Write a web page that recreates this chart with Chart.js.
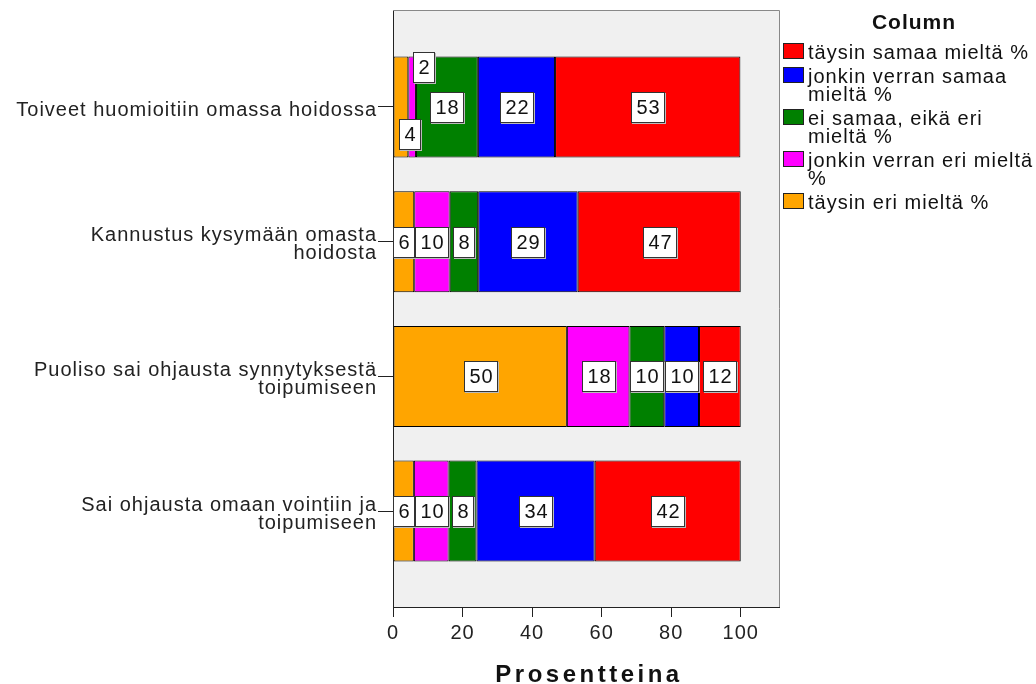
<!DOCTYPE html>
<html>
<head>
<meta charset="utf-8">
<script src="https://cdn.jsdelivr.net/npm/chart.js@4.4.1/dist/chart.umd.min.js"></script>
<style>
    html, body { margin: 0; padding: 0; background: #fff; overflow: hidden; }
    #wrap { position: relative; width: 1036px; height: 684px; }
    #legend {
        position: absolute; left: 781px; top: 10px; width: 266px;
        font-family: "Liberation Sans", Arial, sans-serif; color: #111;
        font-size: 20px; letter-spacing: 1px;
    }
    #legend .otsikko { font-weight: bold; font-size: 21px; line-height: 24px; text-align: center; margin-bottom: 9px; }
    #legend .rivi { position: relative; padding-left: 27px; line-height: 18px; margin-bottom: 6px; white-space: nowrap; }
    #legend .laatikko { position: absolute; left: 2px; top: 0px; width: 19px; height: 14px; border: 1px solid #222; }
</style>
</head>
<body>
<div id="wrap">
    <canvas id="myChart" width="1036" height="684"></canvas>
    <div id="legend"></div>
</div>
<script>
    // kategoriat (y-akseli)
    var categories = [
        ['Toiveet huomioitiin omassa hoidossa'],
        ['Kannustus kysymään omasta', 'hoidosta'],
        ['Puoliso sai ohjausta synnytyksestä', 'toipumiseen'],
        ['Sai ohjausta omaan vointiin ja', 'toipumiseen']
    ];

    // prosentit, pinottu vasemmalta oikealle
    var taysinEri = [4.4, 6.1, 50.0, 6.0];
    var jonkinVerranEri = [2.2, 10.2, 18.0, 10.0];
    var eiSamaaEikaEri = [17.8, 8.2, 10.0, 8.0];
    var jonkinVerranSamaa = [22.2, 28.6, 10.0, 34.0];
    var taysinSamaa = [53.3, 46.9, 12.0, 42.0];

    var xTicks = [0, 20, 40, 60, 80, 100];

    var sarjat = [
        { nimi: 'täysin eri mieltä %', legendi: 'täysin eri mieltä %', arvot: taysinEri, vari: '#ffa500' },
        { nimi: 'jonkin verran eri mieltä %', legendi: 'jonkin verran eri mieltä<br>%', arvot: jonkinVerranEri, vari: '#ff00ff' },
        { nimi: 'ei samaa, eikä eri mieltä %', legendi: 'ei samaa, eikä eri<br>mieltä %', arvot: eiSamaaEikaEri, vari: '#008000' },
        { nimi: 'jonkin verran samaa mieltä %', legendi: 'jonkin verran samaa<br>mieltä %', arvot: jonkinVerranSamaa, vari: '#0000ff' },
        { nimi: 'täysin samaa mieltä %', legendi: 'täysin samaa mieltä %', arvot: taysinSamaa, vari: '#ff0000' }
    ];

    var fontti = '"Liberation Sans", Arial, sans-serif';
    Chart.defaults.font.family = fontti;
    Chart.defaults.font.size = 20;
    Chart.defaults.color = '#222';

    // legendi (käänteinen järjestys kuten alkuperäisessä)
    var legendHtml = '<div class="otsikko">Column</div>';
    for (var k = sarjat.length - 1; k >= 0; k--) {
        legendHtml += '<div class="rivi"><span class="laatikko" style="background:' + sarjat[k].vari + '"></span>' + sarjat[k].legendi + '</div>';
    }
    document.getElementById('legend').innerHTML = legendHtml;

    var datasets = sarjat.map(function (s) {
        return {
            label: s.nimi,
            data: s.arvot.map(function (v, i) { return { x: v, y: i }; }),
            backgroundColor: s.vari,
            borderColor: '#000',
            borderWidth: 1,
            borderSkipped: false,
            barPercentage: 0.75,
            categoryPercentage: 1
        };
    });

    var kuvioPlugin = {
        id: 'kuvio',
        beforeUpdate: function (chart) {
            chart.ctx.letterSpacing = '1px';
        },
        beforeDraw: function (chart) {
            var a = chart.chartArea;
            var ctx = chart.ctx;
            ctx.letterSpacing = '1px';
            ctx.save();
            ctx.fillStyle = '#f0f0f0';
            ctx.fillRect(a.left, a.top, a.right - a.left, a.bottom - a.top);
            ctx.restore();
        },
        afterDatasetsDraw: function (chart) {
            var ctx = chart.ctx;
            ctx.save();
            ctx.font = '20px ' + fontti;
            ctx.textAlign = 'center';
            ctx.textBaseline = 'middle';
            for (var j = 0; j < categories.length; j++) {
                var pienet = 0;
                for (var i = 0; i < chart.data.datasets.length; i++) {
                    var bar = chart.getDatasetMeta(i).data[j];
                    var teksti = String(Math.round(chart.data.datasets[i].data[j].x));
                    var w = ctx.measureText(teksti).width + 9;
                    var h = 30;
                    var vasen = Math.min(bar.x, bar.base);
                    var oikea = Math.max(bar.x, bar.base);
                    var bx = (vasen + oikea) / 2 - w / 2;
                    var by = bar.y - h / 2;
                    if (w > oikea - vasen + 2) {
                        // kapea pala: laatikko sivuun, vuorotellen ala- ja yläreunaan
                        bx = vasen + 5;
                        if (pienet % 2 === 0) by = bar.y + bar.height / 2 - 8 - h;
                        else by = bar.y - bar.height / 2 - 4;
                        pienet++;
                    }
                    bx = Math.round(bx); by = Math.round(by); w = Math.round(w);
                    ctx.fillStyle = '#bbb';
                    ctx.fillRect(bx + 1, by + 1, w + 1, h + 1);
                    ctx.fillStyle = '#fff';
                    ctx.fillRect(bx, by, w, h);
                    ctx.strokeStyle = '#333';
                    ctx.lineWidth = 1;
                    ctx.strokeRect(bx + 0.5, by + 0.5, w, h);
                    ctx.fillStyle = '#111';
                    ctx.fillText(teksti, bx + w / 2 + 1, by + h / 2 + 1);
                }
            }
            ctx.restore();
        },
        afterDraw: function (chart) {
            var a = chart.chartArea;
            var ctx = chart.ctx;
            ctx.save();
            ctx.strokeStyle = '#888';
            ctx.lineWidth = 1;
            ctx.beginPath();
            ctx.moveTo(a.left, a.top + 0.5);
            ctx.lineTo(a.right + 0.5, a.top + 0.5);
            ctx.lineTo(a.right + 0.5, a.bottom);
            ctx.stroke();
            ctx.fillStyle = '#111';
            ctx.font = 'bold 24px ' + fontti;
            ctx.letterSpacing = '3.5px';
            ctx.textAlign = 'center';
            ctx.textBaseline = 'alphabetic';
            ctx.fillText('Prosentteina', (a.left + a.right) / 2 + 3, 682);
            ctx.restore();
        }
    };

    var ctx = document.getElementById('myChart');
    var myChart = new Chart(ctx, {
        type: 'bar',
        data: { datasets: datasets },
        options: {
            indexAxis: 'y',
            responsive: false,
            animation: false,
            layout: { padding: { top: 10, right: 257, left: 0, bottom: 0 } },
            plugins: {
                legend: { display: false },
                tooltip: { enabled: false }
            },
            scales: {
                x: {
                    type: 'linear',
                    stacked: true,
                    min: 0,
                    max: 111,
                    offset: false,
                    afterBuildTicks: function (scale) {
                        scale.ticks = xTicks.map(function (v) { return { value: v }; });
                    },
                    afterFit: function (scale) { scale.height = 77; },
                    grid: { drawOnChartArea: false, offset: false, tickLength: 10, tickColor: '#222' },
                    border: { color: '#222', width: 1 },
                    ticks: { padding: 4, color: '#222', font: { size: 20 } }
                },
                y: {
                    type: 'linear',
                    stacked: true,
                    reverse: true,
                    min: -0.72,
                    max: 3.712,
                    offset: false,
                    afterBuildTicks: function (scale) {
                        scale.ticks = categories.map(function (c, i) { return { value: i }; });
                    },
                    afterFit: function (scale) {
                        scale.width = 393;
                        scale.paddingTop = 0;
                        scale.paddingBottom = 0;
                    },
                    grid: { drawOnChartArea: false, offset: false, tickLength: 15, tickColor: '#222' },
                    border: { color: '#222', width: 1 },
                    ticks: {
                        padding: 1,
                        labelOffset: 3,
                        color: '#222',
                        autoSkip: false,
                        font: { size: 20, lineHeight: 0.9 },
                        callback: function (value) { return categories[value]; }
                    }
                }
            }
        },
        plugins: [kuvioPlugin]
    });
</script>
</body>
</html>
